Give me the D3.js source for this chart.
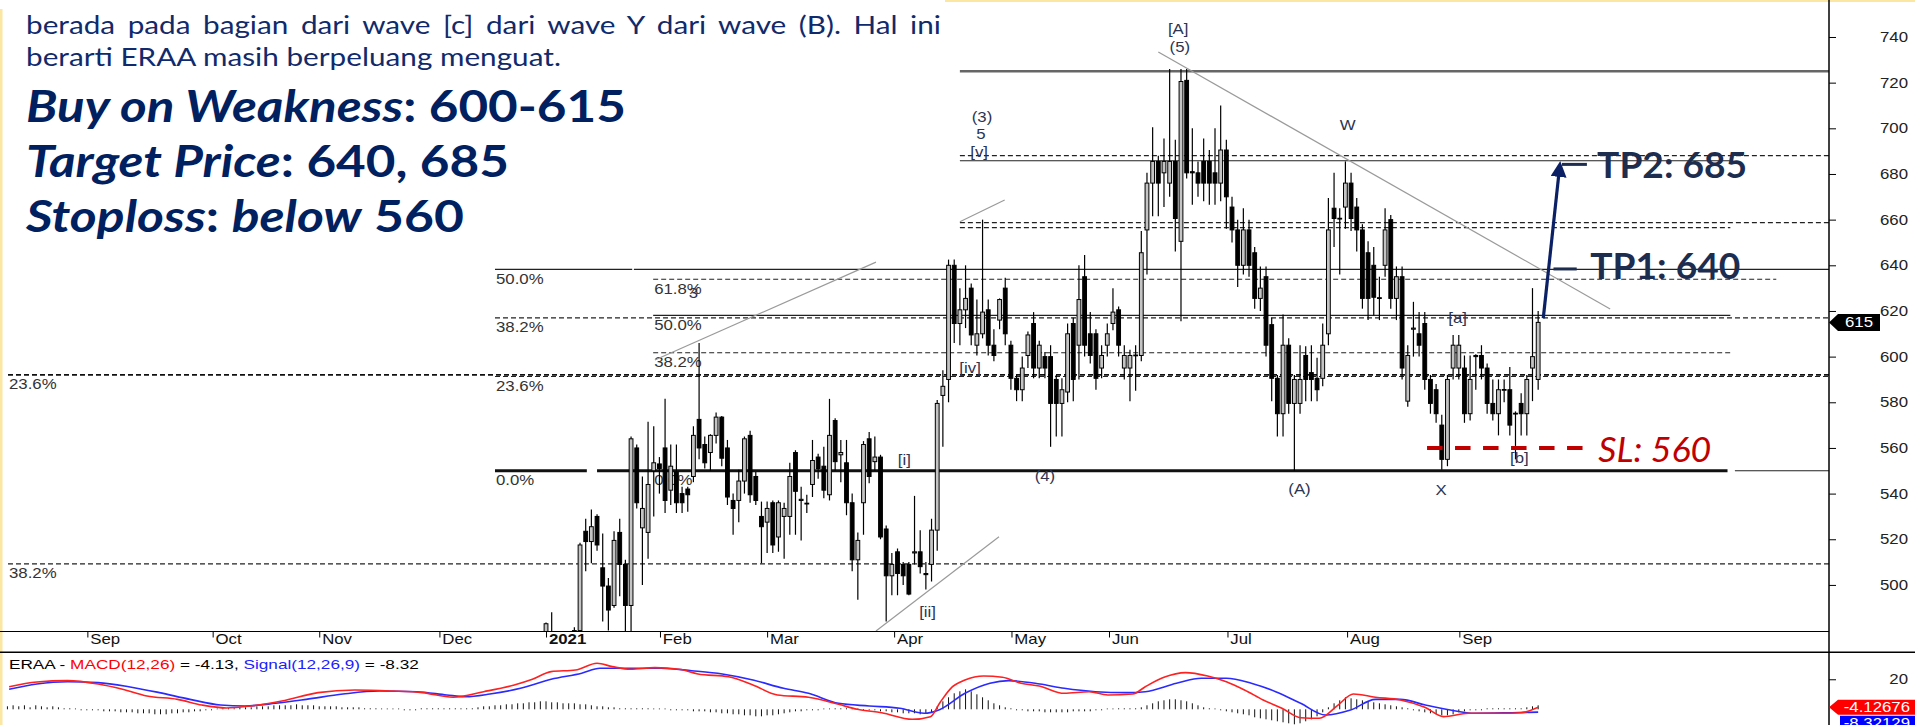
<!DOCTYPE html>
<html>
<head>
<meta charset="utf-8">
<script src="https://cdn.jsdelivr.net/npm/d3@7"></script>
<style>
  body { margin: 0; background: #fff; }
  svg { display: block; }
</style>
</head>
<body>
<svg id="chart" width="1915" height="725"></svg>
<script>
// ---- data (index 0 = first session of Jan 2021) ----
var openP = [
  476,474,472,470,468,477,480,523.5,519,530, 507.5,499.5,491,523,509,491,560,525,523,550,
  553,560,541.5,549.5,540,542,547.5,572.5,561.5,558, 565.5,573.5,560,537,537,545.5,565.5,547.5,530,527.5,
  536,521,530,530,558,537,535.8,544,556,552, 539.5,572,557,553.5,536,511,536,564,554,556,
  524.5,504,514.5,509,509,514,514.5,505,509,524, 583,590,640,614.5,620.5,630,605,610,620.5,605,
  616,630,605,590.5,585.5,600.5,614.5,595,600,600, 590,579.5,584.5,614.5,605,635,610,610,595,605,
  614.5,620.5,595,595,600.5,600.5,655.5,676,685.5,680.5, 676,685.5,650.5,721,681,680.5,685.5,685.5,680.5,676,
  690.5,665.5,655.5,640,655.5,645.5,625.5,635,614,590.5, 575,605,579.5,579.5,600.5,593,590.5,590.5,610,665,
  660.6,665.5,676,665.5,655.5,645.5,640,625.8,640,660, 625.5,635,580.5,612,610,614.5,590,585.5,570,555,
  595,595,595,575,600.5,600.5,595,579.5,575,585.4, 585.5,575.2,579.5,575,595,590
];
var highP = [
  483.5,488,478,476,479,481.5,518.5,529,533,531, 522.5,503,523.5,529,511,565,561.5,547.5,571.5,569.5,
  556,581.5,561.5,561.5,543,543,569.5,606,565,566, 575.5,574,563.5,540,550.5,565,567.5,549.5,536.5,536.5,
  537,537,536,553.5,559,543,539.5,563.5,557.5,560.5, 581.5,573,563.5,563.5,540,523,563,567,565,557,
  526,514,516,510,510,539,524,510,529,581, 594,642.5,642.5,630,640,632,625,660,625,612,
  625.5,634.5,607,592,600,611,619.5,607,602,605, 592,590.5,614.5,617,640,644.5,619.5,612,605,614.5,
  630,622,605,603,605,655,680.5,700.5,688,695.5, 726,695,726,726,700,685.5,695.5,690.5,700,710,
  695,670,660,665,660,648,639.5,639.5,617,592, 618.5,608,592,605,604.5,605,599.5,614.5,669.5,680.5,
  665,685.5,680.5,669.5,658,650.5,648,635,665,662, 639.5,639.5,605,624,619.5,619.5,592,588,574.5,592,
  609.5,609.5,600.5,600.5,601,605,597,590,590,590, 595.5,576,584,592,630,620
];
var lowP = [
  474,470,466,462,465,474,478,506,509.5,515, 484,480,490,495,478,478,533.5,500,511.5,530,
  540,531.5,535,531.5,531.5,532,545,555,551,550, 562,552,535,522,527.5,540,536,535,509.5,514,
  514,514.5,511.5,522,522,519.5,531.5,538.5,546.5,538, 537,550,545,530.5,506,493.5,522,544.5,550,520,
  484,495.5,495.5,500,495.5,509,505,498,501.5,515, 560.5,580,606,605,612.5,605,600.5,608,600.5,598,
  612,605,585.5,580.5,580.5,595,590.5,590.5,590.5,560.5, 565,565,580,580.5,590,600,597,585.5,590.5,600,
  611.5,600,590,580.5,585,598,636,661.5,661.5,665.5, 670,646,615.5,678,666.5,670,668,666.5,666.5,668,
  656,650,630.5,636,635,621,620,600,580.5,565, 565,575,550,575,580.5,580.5,580.5,587,605,648,
  636,656,655,646,621,616,618,616,635,621, 616,590,578,600,600,585.5,575,571,550.5,552,
  590,590,571,572,585.5,590,575,572,565.5,580, 565.5,555,565.5,565.5,580.5,585.5
];
var closeP = [
  483,477,470,468,476,480,517.5,519,525.5,517.5, 499.5,489,519.5,509,491,564,536,533.5,544,553.5,
  551,537,552,536,536,539.5,565.5,560,553.5,565.5, 573.5,555.5,538.5,533.5,545.5,564,539.5,537,525.5,533.5,
  517.5,536,533.5,547.5,541,537.5,535.5,554.5,551,541.5, 565.5,554,558,536,511,519.5,561.5,547.5,556,521,
  504,509,505,504,496,514.5,508,504.5,524,579.5, 587,640,614.5,620.5,625.5,609.5,610,619.5,605,600.5,
  625,610,590.5,585.5,595,609.5,595,605,595,579.5, 579.5,585.5,610,590,625,605,600.5,590.5,600.5,610,
  619.5,605,600.5,600.5,600.7,645.5,676,685.5,676,685.5, 685.5,660.5,720.5,680.5,680.5,676,676,676,676,690.5,
  670,655.5,640,655.5,640,625.5,630,605,590.5,575, 605,579.5,590,590,590,590,585.5,605,655.5,660.5,
  660.4,676,660.5,655.5,625.5,625.5,626,625.6,655.5,625.5, 635,595,600.5,612.5,605,590,579.5,575,555,590,
  605,605,575,590,600,595,579.5,575,585.5,585.6, 570,575,575,590,600,615
];
var lastPrice = 615;

var priceTicks = [500, 520, 540, 560, 580, 600, 620, 640, 660, 680, 700, 720, 740];
var monthLabels = ["Sep", "Oct", "Nov", "Dec", "2021", "Feb", "Mar", "Apr", "May", "Jun", "Jul", "Aug", "Sep"];
var monthIdx = [-80.9, -58.8, -40, -18.8, 0, 20.1, 39, 61.4, 82.1, 99.3, 120.2, 141.3, 161.1];

// MACD panel, [session index, value]
var macdPts = [[-94.7,13.6],[-89.8,17.7],[-84.4,18.8],[-79,15.9],[-74.7,11.4],[-70.4,5.6],[-65,2.7],[-60.7,-2.2],
  [-56.4,-4.7],[-52,-3],[-46.6,1.3],[-40.2,8.5],[-33.7,10.8],[-27.2,9.9],[-21.8,8.5],[-16.4,4.5],[-11,9.3],
  [-5.6,15.1],[-2.4,20],[0.9,26.6],[5.2,28],[9,33.8],[11.7,30.9],[14.9,28.6],[19.2,30],[23.5,28.6],[26.8,24.6],
  [32.2,22.2],[36.5,15.1],[40.8,6.5],[46.3,4.5],[51.6,-1.6],[54.9,-5.9],[59.2,-8.8],[64.6,-14.5],[67.8,-12.2],
  [69.5,0],[71.7,13.6],[73.9,19.4],[77.2,22.8],[80.5,21.7],[83.8,16.6],[87,14.2],[91.4,7.9],[95.8,9.3],[99.1,6.5],
  [103.5,7.3],[105.7,13.6],[109,21.7],[112.8,25.7],[116.7,22.8],[120,17.9],[123.2,10.8],[126.5,2.2],[129.8,-5],
  [133.1,-13.1],[136.4,-13.6],[139.7,-2.2],[142.4,7.3],[146.3,4.5],[150.7,2.2],[155,-4.1],[158.3,-12.2],
  [162.7,-9.3],[168.2,-9.3],[172,-8.8],[175,-4.13]];
var signalPts = [[-94.7,11.4],[-89.8,15.9],[-84.4,17.9],[-79,17.1],[-73.6,13.6],[-68.2,8.5],[-62.8,2.7],[-57.4,-2.2],
  [-53.1,-3],[-47.7,-0.7],[-42.3,2.7],[-35.8,7.3],[-29.4,9.9],[-22.8,9.3],[-17.5,6.5],[-14.2,5],[-9.9,7.3],
  [-4.5,12.2],[0.9,20],[6.3,25.2],[9.5,29.5],[13.8,29.5],[20.3,29.5],[25.7,27.4],[31.1,24.6],[36.5,19.4],
  [41.9,12.2],[46.3,7.9],[51.6,-0.7],[57,-3],[62.4,-5],[66.7,-9.3],[69.5,-6],[73.9,7.9],[78.3,16.6],[81.6,18.8],
  [87.1,15.9],[91.4,12.2],[96.9,9.3],[102.4,8.5],[105.7,9.3],[111.2,16.6],[115.6,20.9],[120,20.9],[124.4,16.6],
  [128.7,9.3],[133.1,-0.7],[137.5,-10.8],[141.9,-6.5],[146.3,2.7],[150.7,2.7],[155.1,-2.2],[159.5,-6.5],
  [163.8,-9.3],[170.4,-8.8],[175,-8.32]];
var histStart = -95;
var macdHist = [
  3,4,3,4,2,4,3,2,3,2,1, 1,0,-1,-1,-1,
  -1,-2,-2,-2,-3,-3,-3,-4,-4,-4,-5,-5,-5,-4,-4,-3,
  -3,-2,-2,-1,-1,0,1,1,1,2,2,
  2,3,3,3,4,4,4,4,5,4,4,4,3,3,3,3,2,2,2,2,1,
  1,1,0,0,0,0,-1,-1,-1, 1,1,1,1,1,1,1,1,1,1,
  2,3,3,4,4,5,5,6,6,7,7, 8,8,7,7,6,6,6,5,5,4,3,3,2,
  2,1,1,1,1,1,1,0,0,0,-1,-1,-1,-1,-2,-2,
  -2,-3,-3,-4,-4,-5,-5,-6,-6,-7,-7,-6,-6,-5,-4,-3,-2,
  -2,-1,-1,-1,0,0,1,1,1,0,0,-1,-1,-1,-2,-2,
  -3,-3,-4,-4,-4,-5,-4,-3, 3,8,12,16,18,20,18,15,12,9, 6,4,2,1,
  -1,-1,-2,-2,-2,-3,-3,-3,-3,-3,-2,-2,-2,-2,-1,-1,
  0,0,1,1,1,1,2, 4,6,8,9,10,10,9,8,6,4, 2,1,0,-1,-2,
  -3,-4,-5,-6,-8,-9,-10,-11,-12,-13,-14,-15,-14,-12,-10,-7,
  -3,2,6,9,12,11,10, 9,8,7,6,5,4,3,2,1,
  -1,-2,-3,-4,-5,-6,-6,-5, -3,-2,-1,-1,-1,1,1,1,1,1,1,1, 2,3,4
];
var macdLast = -4.12676, signalLast = -8.32129;

// ---- annotations (session index, price) ----
var fibLines = [
  { p: 592, from: -94.9, to: 226.3, s: "dash2", lab: "23.6%" },
  { p: 509.2, from: -94.9, to: 226.3, s: "dash", lab: "38.2%" },
  { p: 638.2, from: -9.0, to: 15.2, s: "solid", lab: "50.0%" },
  { p: 638.2, from: 15.5, to: 226.3, s: "solid" },
  { p: 617, from: -9.0, to: 226.3, s: "dash", lab: "38.2%" },
  { p: 591.3, from: -9.0, to: 226.3, s: "dash", lab: "23.6%" },
  { p: 550, from: -9.0, to: 7.2, s: "thick", lab: "0.0%" },
  { p: 550, from: 9.0, to: 208.4, s: "thick" },
  { p: 550, from: 209.7, to: 226.3, s: "solid" },
  { p: 633.9, from: 18.9, to: 217, s: "dash", lab: "61.8%" },
  { p: 618.1, from: 18.9, to: 208.9, s: "solid", lab: "50.0%" },
  { p: 601.7, from: 18.9, to: 208.9, s: "dash", lab: "38.2%" },
  { p: 550, from: 18.9, to: 18.9, s: "none", lab: "0.0%" },
  { p: 725, from: 73, to: 226.3, s: "top" },
  { p: 688, from: 73, to: 226.3, s: "dash" },
  { p: 685.8, from: 73, to: 208.9, s: "solid" },
  { p: 658.7, from: 73, to: 226.3, s: "dash" },
  { p: 656.5, from: 73, to: 208.9, s: "dash" }
];
var trendLines = [
  [[19.2, 598.5], [58.2, 641.4]],
  [[73.0, 659.1], [80.9, 668.6]],
  [[58.2, 479.8], [79.9, 521.1]],
  [[108.0, 733.4], [187.7, 620.9]]
];
var waveLabels = [
  ["[A]", 111.5, 743.5], ["(5)", 111.8, 735.6], ["(3)", 76.9, 705], ["5", 76.7, 697.5], ["[v]", 76.4, 689.8],
  ["W", 141.4, 701.5], ["[a]", 160.8, 616.8], ["[b]", 171.7, 555.7], ["X", 157.9, 541.6], ["(A)", 132.9, 542.2],
  ["(4)", 88, 547.9], ["[i]", 63.2, 554.7], ["[ii]", 67.3, 488.3], ["[iv]", 74.8, 594.9], ["3", 26, 627.7]
];
var tpArrow = [[175.9, 616.8], [178.9, 685.7]];
var targets = [
  { text: "TP2: 685", p: 684.2, dash: [179.2, 183.6], at: 185.4, base: 678.1 },
  { text: "TP1: 640", p: 638.4, dash: [177.7, 181.8], at: 184.2, base: 633.9 }
];
var stopLoss = { text: "SL: 560", p: 560, from: 155.4, to: 182.9, at: 185.6, base: 554 };

// ---- layout ----
var svg = d3.select("#chart");
var axisX = 1829;
var x = d3.scaleLinear().domain([-96.31, 226.3]).range([0, axisX]);
var y = d3.scaleLinear().domain([479.6, 752.7]).range([631.5, 8]);
var yMacd = d3.scaleLinear().domain([-19.4, 43.5]).range([725, 652]);
var yHist = d3.scaleLinear().domain([-20, 20]).range([729.3, 689.3]);
var stretch = 1.2;
var chartFont = "'Liberation Sans', Arial, sans-serif";
var noteFont = "Lato, 'Open Sans', sans-serif";

function chartText(parent, px, py, str, anchor, size, color, weight) {
  return parent.append("text")
    .attr("transform", "translate(" + px + "," + py + ") scale(" + stretch + ",1)")
    .attr("text-anchor", anchor || "start")
    .attr("font-family", chartFont)
    .attr("font-size", size || 14)
    .attr("font-weight", weight || "normal")
    .attr("fill", color || "#333")
    .text(str);
}
function fitWidth(sel, x0, target) {
  var w = sel.node().getComputedTextLength();
  sel.attr("transform", "translate(" + x0 + ",0) scale(" + (target / w) + ",1) translate(" + (-x0) + ",0)");
}

var defs = svg.append("defs");
defs.append("clipPath").attr("id", "clipPrice").append("rect")
  .attr("x", 0).attr("y", 0).attr("width", axisX).attr("height", 631.5);
defs.append("clipPath").attr("id", "clipMacd").append("rect")
  .attr("x", 0).attr("y", 653).attr("width", axisX).attr("height", 72);
defs.append("marker").attr("id", "arrowHead")
  .attr("viewBox", "0 0 10 10").attr("refX", 5).attr("refY", 5)
  .attr("markerWidth", 16).attr("markerHeight", 16)
  .attr("markerUnits", "userSpaceOnUse").attr("orient", "auto")
  .append("path").attr("d", "M0,0L10,5L0,10z").attr("fill", "#0c2165");

// frame
svg.append("rect").attr("x", 0).attr("y", 9).attr("width", 2.5).attr("height", 716).attr("fill", "#fbe6a2");
svg.append("rect").attr("x", 945).attr("y", 0).attr("width", 970).attr("height", 2).attr("fill", "#fbe6a2");

var lineStyles = {
  solid: { c: "#222", w: 1.2 },
  dash: { c: "#222", w: 1.2, d: "5,3" },
  dash2: { c: "#111", w: 1.8, d: "5,3" },
  thick: { c: "#111", w: 3 },
  top: { c: "#666", w: 2.5 }
};

var gPrice = svg.append("g").attr("clip-path", "url(#clipPrice)");

gPrice.selectAll("line.fib").data(fibLines.filter(function (d) { return d.s !== "none"; }))
  .join("line").attr("class", "fib")
  .attr("x1", function (d) { return x(d.from); }).attr("x2", function (d) { return x(d.to); })
  .attr("y1", function (d) { return y(d.p); }).attr("y2", function (d) { return y(d.p); })
  .attr("stroke", function (d) { return lineStyles[d.s].c; })
  .attr("stroke-width", function (d) { return lineStyles[d.s].w; })
  .attr("stroke-dasharray", function (d) { return lineStyles[d.s].d || null; });

fibLines.filter(function (d) { return d.lab; }).forEach(function (d) {
  chartText(gPrice, x(d.from) + 1, y(d.p) + 14.5, d.lab, "start", 14, "#333");
});

// candles
var idx = d3.range(closeP.length);
var gCandle = gPrice.append("g");
gCandle.selectAll("line").data(idx).join("line")
  .attr("x1", function (i) { return x(i); }).attr("x2", function (i) { return x(i); })
  .attr("y1", function (i) { return y(highP[i]); }).attr("y2", function (i) { return y(lowP[i]); })
  .attr("stroke", "#000").attr("stroke-width", 1.2);
gCandle.selectAll("rect").data(idx).join("rect")
  .attr("x", function (i) { return x(i) - 1.9; }).attr("width", 3.8)
  .attr("y", function (i) { return y(Math.max(openP[i], closeP[i])); })
  .attr("height", function (i) { return Math.max(0.8, Math.abs(y(openP[i]) - y(closeP[i]))); })
  .attr("fill", function (i) { return closeP[i] >= openP[i] ? "#c4c4c4" : "#000"; })
  .attr("stroke", "#000").attr("stroke-width", 1);

// trend lines
gPrice.selectAll("line.trend").data(trendLines).join("line").attr("class", "trend")
  .attr("x1", function (d) { return x(d[0][0]); }).attr("y1", function (d) { return y(d[0][1]); })
  .attr("x2", function (d) { return x(d[1][0]); }).attr("y2", function (d) { return y(d[1][1]); })
  .attr("stroke", "#9a9a9a").attr("stroke-width", 1.2);

waveLabels.forEach(function (d) {
  chartText(gPrice, x(d[1]), y(d[2]) + 5, d[0], "middle", 14, "#2c3452");
});

// stop loss
gPrice.append("line")
  .attr("x1", x(stopLoss.from)).attr("x2", x(stopLoss.to))
  .attr("y1", y(stopLoss.p)).attr("y2", y(stopLoss.p))
  .attr("stroke", "#c00000").attr("stroke-width", 4).attr("stroke-dasharray", "15.5,12.5");
var slText = gPrice.append("text")
  .attr("x", x(stopLoss.at)).attr("y", y(stopLoss.base))
  .attr("font-family", noteFont).attr("font-style", "italic").attr("font-size", 35)
  .attr("fill", "#c00000").text(stopLoss.text);
fitWidth(slText, x(stopLoss.at), 113);

// target arrow
var ax0 = x(tpArrow[0][0]), ay0 = y(tpArrow[0][1]), ax1 = x(tpArrow[1][0]), ay1 = y(tpArrow[1][1]);
var alen = Math.hypot(ax1 - ax0, ay1 - ay0);
gPrice.append("line")
  .attr("x1", ax0).attr("y1", ay0)
  .attr("x2", ax1 - (ax1 - ax0) / alen * 8).attr("y2", ay1 - (ay1 - ay0) / alen * 8)
  .attr("stroke", "#0c2165").attr("stroke-width", 3.2).attr("marker-end", "url(#arrowHead)");

targets.forEach(function (t) {
  gPrice.append("line")
    .attr("x1", x(t.dash[0])).attr("x2", x(t.dash[1]))
    .attr("y1", y(t.p)).attr("y2", y(t.p))
    .attr("stroke", "#1c2d4f").attr("stroke-width", 3);
  var tt = gPrice.append("text")
    .attr("x", x(t.at)).attr("y", y(t.base))
    .attr("font-family", noteFont).attr("font-weight", "bold").attr("font-size", 37)
    .attr("fill", "#1c2d4f").text(t.text);
  fitWidth(tt, x(t.at), 150);
});

// price axis
var pAxis = svg.append("g").attr("transform", "translate(" + axisX + ",0)")
  .call(d3.axisRight(y).tickValues(priceTicks).tickSize(7).tickFormat(d3.format("d")));
pAxis.select(".domain").remove();
pAxis.selectAll(".tick line").attr("stroke", "#000");
pAxis.selectAll(".tick text")
  .attr("x", 79 / stretch).attr("text-anchor", "end").attr("transform", "scale(" + stretch + ",1)")
  .attr("font-family", chartFont).attr("font-size", 14).attr("fill", "#222");

// last price tag
var ty = y(lastPrice);
svg.append("path")
  .attr("d", "M" + axisX + "," + ty + "L" + (axisX + 9) + "," + (ty - 8.5) + "L1880," + (ty - 8.5) +
    "L1880," + (ty + 8.5) + "L" + (axisX + 9) + "," + (ty + 8.5) + "Z")
  .attr("fill", "#000");
chartText(svg, 1859, ty + 5, String(lastPrice), "middle", 14, "#fff");

// month axis
var mAxis = svg.append("g").attr("transform", "translate(0,631.5)")
  .call(d3.axisBottom(x).tickValues(monthIdx).tickSize(6)
    .tickFormat(function (d, i) { return monthLabels[i]; }));
mAxis.select(".domain").remove();
mAxis.selectAll(".tick line").attr("stroke", "#000");
mAxis.selectAll(".tick text")
  .attr("x", 2).attr("y", 3).attr("text-anchor", "start").attr("transform", "scale(" + stretch + ",1)")
  .attr("font-family", chartFont).attr("font-size", 14).attr("fill", "#111")
  .attr("font-weight", function (d, i) { return monthLabels[i] === "2021" ? "bold" : "normal"; });

svg.append("line").attr("x1", 0).attr("x2", axisX).attr("y1", 631.5).attr("y2", 631.5)
  .attr("stroke", "#000").attr("stroke-width", 1.2);
svg.append("line").attr("x1", 0).attr("x2", 1915).attr("y1", 652.3).attr("y2", 652.3)
  .attr("stroke", "#000").attr("stroke-width", 1.5);
svg.append("line").attr("x1", axisX).attr("x2", axisX).attr("y1", 0).attr("y2", 725)
  .attr("stroke", "#000").attr("stroke-width", 1.5);

// MACD panel
var gMacd = svg.append("g").attr("clip-path", "url(#clipMacd)");
gMacd.selectAll("line").data(macdHist).join("line")
  .attr("x1", function (d, i) { return x(histStart + i); }).attr("x2", function (d, i) { return x(histStart + i); })
  .attr("y1", yHist(0)).attr("y2", function (d) { return d === 0 ? yHist(0) - 0.8 : yHist(d); })
  .attr("stroke", "#111").attr("stroke-width", 1);
var macdLine = d3.line().x(function (d) { return x(d[0]); }).y(function (d) { return yMacd(d[1]); })
  .curve(d3.curveMonotoneX);
gMacd.append("path").datum(signalPts).attr("d", macdLine)
  .attr("fill", "none").attr("stroke", "#2a2aff").attr("stroke-width", 1.6);
gMacd.append("path").datum(macdPts).attr("d", macdLine)
  .attr("fill", "none").attr("stroke", "#ff2020").attr("stroke-width", 1.6);

var mt = svg.append("text").attr("x", 9).attr("y", 669)
  .attr("font-family", chartFont).attr("font-size", 13).attr("fill", "#000");
mt.append("tspan").text("ERAA - ");
mt.append("tspan").attr("fill", "#ff0000").text("MACD(12,26)");
mt.append("tspan").text(" = -4.13, ");
mt.append("tspan").attr("fill", "#2020ff").text("Signal(12,26,9)");
mt.append("tspan").text(" = -8.32");
fitWidth(mt, 9, 410);

var mAx = svg.append("g").attr("transform", "translate(" + axisX + ",0)")
  .call(d3.axisRight(yMacd).tickValues([20]).tickSize(7));
mAx.select(".domain").remove();
mAx.selectAll(".tick text")
  .attr("x", 79 / stretch).attr("text-anchor", "end").attr("transform", "scale(" + stretch + ",1)")
  .attr("font-family", chartFont).attr("font-size", 14).attr("fill", "#222");

var my = yMacd(macdLast);
svg.append("path")
  .attr("d", "M" + axisX + "," + my + "L" + (axisX + 9) + "," + (my - 7.5) + "L1915," + (my - 7.5) +
    "L1915," + (my + 7.5) + "L" + (axisX + 9) + "," + (my + 7.5) + "Z")
  .attr("fill", "#ff0000");
chartText(svg, 1910, my + 5, String(macdLast), "end", 14, "#fff");
svg.append("rect").attr("x", 1840).attr("y", my + 8.5).attr("width", 75).attr("height", 16).attr("fill", "#0000ff");
chartText(svg, 1910, my + 21, String(signalLast), "end", 14, "#fff");

// commentary block
var body = [
  { t: "berada pada bagian dari wave [c] dari wave Y dari wave (B). Hal ini", y: 34, w: 915, justify: true },
  { t: "berarti ERAA masih berpeluang menguat.", y: 66, w: 535 }
];
var probe = svg.append("text").attr("font-family", noteFont).attr("font-size", 25.5).text(body[1].t);
var k = body[1].w / probe.node().getComputedTextLength();
probe.remove();
body.forEach(function (b) {
  var t = svg.append("text").attr("x", 26).attr("y", b.y)
    .attr("font-family", noteFont).attr("font-size", 25.5).attr("fill", "#102a6b").text(b.t);
  if (b.justify) {
    var w0 = t.node().getComputedTextLength();
    var gaps = b.t.split(" ").length - 1;
    t.attr("word-spacing", (b.w / k - w0) / gaps);
  }
  fitWidth(t, 26, b.w);
});

var calls = [
  { parts: [["Buy on Weakness", true], [": 600-615", false]], y: 122, w: 600 },
  { parts: [["Target Price", true], [": 640, 685", false]], y: 177, w: 483 },
  { parts: [["Stoploss", true], [": ", false], ["below", true], [" 560", false]], y: 232, w: 438 }
];
calls.forEach(function (c) {
  var t = svg.append("text").attr("x", 26).attr("y", c.y)
    .attr("font-family", noteFont).attr("font-weight", "bold").attr("font-size", 43).attr("fill", "#002060");
  c.parts.forEach(function (p) {
    t.append("tspan").attr("font-style", p[1] ? "italic" : "normal").text(p[0]);
  });
  fitWidth(t, 26, c.w);
});
</script>
</body>
</html>
